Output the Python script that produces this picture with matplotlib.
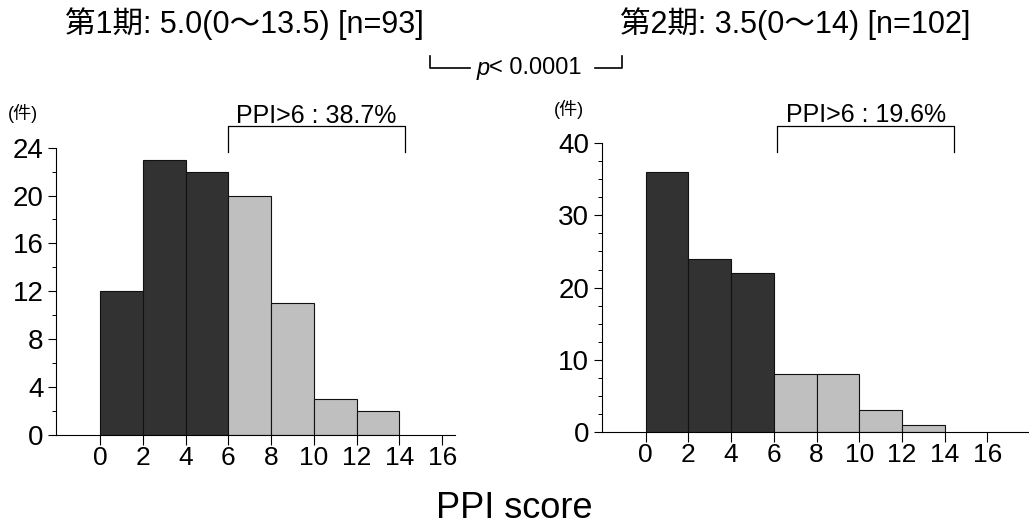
import matplotlib
matplotlib.use("Agg")
import matplotlib.pyplot as plt
from matplotlib.ticker import MultipleLocator
from matplotlib.lines import Line2D

plt.rcParams['font.family'] = ['Liberation Sans', 'Noto Sans CJK JP', 'DejaVu Sans']

# PPI score histogram data (bins of width 2)
bin_left = [0, 2, 4, 6, 8, 10, 12]
counts_p1 = [12, 23, 22, 20, 11, 3, 2]
counts_p2 = [36, 24, 22, 8, 8, 3, 1]
cutoff = 6
xticks = [0, 2, 4, 6, 8, 10, 12, 14, 16]

title_p1 = "第1期: 5.0(0〜13.5) [n=93]"
title_p2 = "第2期: 3.5(0〜14) [n=102]"
label_p1 = "PPI>6 : 38.7%"
label_p2 = "PPI>6 : 19.6%"
p_text = "< 0.0001"

dark = "#323232"
light = "#bfbfbf"

fig = plt.figure(figsize=(10.29, 5.27), dpi=100)
ax1 = fig.add_axes([0.0544, 0.1746, 0.3878, 0.5452])
ax2 = fig.add_axes([0.5847, 0.1808, 0.4153, 0.5472])


def draw_hist(ax, counts, ymax, major, minor, xmax, br, bracket_label):
    colors = [dark if b < cutoff else light for b in bin_left]
    ax.bar(bin_left, counts, width=2, align="edge", color=colors,
           edgecolor="#111111", linewidth=0.8)
    ax.set_xlim(-2.06, xmax)
    ax.set_ylim(0, ymax)
    ax.set_xticks(xticks)
    ax.yaxis.set_major_locator(MultipleLocator(major))
    ax.yaxis.set_minor_locator(MultipleLocator(minor))
    for s in ["top", "right"]:
        ax.spines[s].set_visible(False)
    ax.spines["left"].set_bounds(0, ymax)
    ax.tick_params(axis="y", which="major", direction="out", length=6,
                   width=0.8, labelsize=20, pad=3)
    ax.tick_params(axis="x", which="major", direction="out", length=7,
                   width=0.8, labelsize=19, pad=1)
    ax.tick_params(axis="y", which="minor", direction="out", length=3, width=0.7)
    # bracket for PPI > 6
    x0, x1, y0, y1 = br
    ax.plot([x0, x0, x1, x1], [y0, y1, y1, y0], color="black", lw=0.9,
            clip_on=False)
    ax.text((x0 + x1) / 2, y1 - ymax * 0.005, bracket_label, ha="center",
            va="bottom", fontsize=18)
    ax.text(-3.6, ymax * 1.085, "(件)", ha="center", va="bottom", fontsize=13)


draw_hist(ax1, counts_p1, 24, 4, 2, 16.6, (6, 14.25, 23.6, 25.8), label_p1)
draw_hist(ax2, counts_p2, 40, 10, 2.5, 17.95, (6.15, 14.45, 38.8, 42.4), label_p2)

fig.text(0.0635, 0.955, title_p1, ha="left", va="center", fontsize=22)
fig.text(0.603, 0.955, title_p2, ha="left", va="center", fontsize=22)

# p-value bracket between periods
y_top = 1 - 56 / 527
y_bot = 1 - 68 / 527
fig.add_artist(Line2D([430 / 1029, 430 / 1029, 470 / 1029], [y_top, y_bot, y_bot],
                      color="black", lw=1.2))
fig.add_artist(Line2D([595 / 1029, 622 / 1029, 622 / 1029], [y_bot, y_bot, y_top],
                      color="black", lw=1.2))
fig.text(477 / 1029, y_bot, "p", style="italic", ha="left", va="center", fontsize=17)
fig.text(489 / 1029, y_bot, p_text, ha="left", va="center", fontsize=17)

fig.text(0.5, 0.035, "PPI score", ha="center", va="center", fontsize=26)

fig.savefig("out.png", dpi=100)
